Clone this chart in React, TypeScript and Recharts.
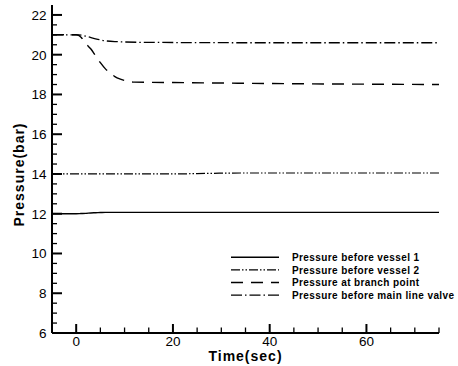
import React from 'react';
import { LineChart, Line, XAxis, YAxis } from 'recharts';

// ---- data ----
const vessel1Time = [-5, 0, 1, 2, 3, 4, 5, 6, 8, 75];
const vessel1Pressure = [12, 12, 12.01, 12.02, 12.04, 12.05, 12.06, 12.07, 12.07, 12.07];

const vessel2Time = [-5, 20, 25, 30, 35, 40, 75];
const vessel2Pressure = [14, 14, 14.02, 14.04, 14.05, 14.05, 14.05];

const branchTime = [-5, 0, 0.5, 1, 2, 3, 4, 5, 6, 7, 8, 9, 10, 11, 12, 20, 40, 75];
const branchPressure = [21, 21, 20.97, 20.88, 20.55, 20.3, 19.95, 19.6, 19.3, 19.08, 18.9, 18.78, 18.7, 18.65, 18.62, 18.6, 18.55, 18.5];

const mainValveTime = [-5, 0.5, 2, 4, 6, 8, 15, 40, 75];
const mainValvePressure = [21, 21, 20.93, 20.8, 20.7, 20.66, 20.62, 20.6, 20.6];

const seriesNames = [
  'Pressure before vessel 1',
  'Pressure before vessel 2',
  'Pressure at branch point',
  'Pressure before main line valve',
];

const xTicks = [0, 5, 10, 15, 20, 25, 30, 35, 40, 45, 50, 55, 60, 65, 70, 75];
const xMajor = [0, 20, 40, 60];
const yTicks = [6, 6.5, 7, 7.5, 8, 8.5, 9, 9.5, 10, 10.5, 11, 11.5, 12, 12.5, 13, 13.5, 14, 14.5, 15, 15.5, 16, 16.5, 17, 17.5, 18, 18.5, 19, 19.5, 20, 20.5, 21, 21.5, 22];
const yMajor = [6, 8, 10, 12, 14, 16, 18, 20, 22];

const zip = (t: number[], p: number[]) => t.map((tt, i) => ({ t: tt, p: p[i] }));

const series = [
  { name: seriesNames[0], data: zip(vessel1Time, vessel1Pressure), dash: undefined as string | undefined, width: 1.4 },
  { name: seriesNames[1], data: zip(vessel2Time, vessel2Pressure), dash: '9 2 1.5 2 1.5 2', width: 1.2 },
  { name: seriesNames[2], data: zip(branchTime, branchPressure), dash: '12 8', width: 1.4 },
  { name: seriesNames[3], data: zip(mainValveTime, mainValvePressure), dash: '11 3 1.5 3', width: 1.3 },
];

const FONT = '"Liberation Sans", Arial, Helvetica, sans-serif';

const YTick = (props: any) => {
  const { x, y, payload } = props;
  const v = payload.value;
  const major = yMajor.includes(v);
  return (
    <g>
      <line x1={x} x2={x + (major ? 10 : 5)} y1={y} y2={y} stroke="#000" strokeWidth={major ? 2 : 1.3} />
      {major && (
        <text x={x - 5.5} y={y} dy="0.36em" textAnchor="end" fontSize={13.5} fontFamily={FONT} fill="#000">
          {v}
        </text>
      )}
    </g>
  );
};

const XTick = (props: any) => {
  const { x, y, payload } = props;
  const v = payload.value;
  const major = xMajor.includes(v);
  return (
    <g>
      <line x1={x} x2={x} y1={y} y2={y - (major ? 9 : 5.5)} stroke="#000" strokeWidth={major ? 2 : 1.3} />
      {major && (
        <text x={x} y={y + 13} textAnchor="middle" fontSize={13.5} fontFamily={FONT} fill="#000">
          {v}
        </text>
      )}
    </g>
  );
};

const LegendBox = () => (
  <g transform="translate(225 248)">
    {series.map((s, i) => {
      const cy = 9.3 + i * 12.6;
      return (
        <g key={s.name}>
          <line x1={6} x2={54} y1={cy} y2={cy} stroke="#000" strokeWidth={s.width} strokeDasharray={s.dash} />
          <text x={67} y={cy} dy="0.36em" fontSize={10} fontWeight="bold" letterSpacing={0.4} fontFamily={FONT} fill="#000">
            {s.name}
          </text>
        </g>
      );
    })}
  </g>
);

export default function App() {
  return (
    <div style={{ position: 'absolute', left: 0, top: 0, background: '#fff' }}>
      <LineChart width={458} height={366} margin={{ top: 5, right: 19, bottom: 0, left: 0 }}>
        <XAxis
          dataKey="t"
          type="number"
          domain={[-5, 75]}
          ticks={xTicks}
          interval={0}
          allowDataOverflow
          height={33}
          tickSize={0}
          tickMargin={0}
          tickLine={false}
          axisLine={{ stroke: '#000', strokeWidth: 2 }}
          tick={XTick}
        />
        <YAxis
          type="number"
          domain={[6, 22.5]}
          ticks={yTicks}
          interval={0}
          allowDataOverflow
          width={52}
          tickSize={0}
          tickMargin={0}
          tickLine={false}
          axisLine={{ stroke: '#000', strokeWidth: 2 }}
          tick={YTick}
        />
        {series.map((s) => (
          <Line
            key={s.name}
            data={s.data}
            dataKey="p"
            name={s.name}
            type="monotone"
            stroke="#000"
            strokeWidth={s.width}
            strokeDasharray={s.dash}
            dot={false}
            activeDot={false}
            isAnimationActive={false}
          />
        ))}
        <LegendBox />
        <text x={245.5} y={361} textAnchor="middle" fontSize={14} fontWeight="bold" letterSpacing={1} fontFamily={FONT} fill="#000">
          Time(sec)
        </text>
        <text
          x={24.3}
          y={174.5}
          transform="rotate(-90 24.3 174.5)"
          textAnchor="middle"
          fontSize={14}
          fontWeight="bold"
          letterSpacing={1}
          fontFamily={FONT}
          fill="#000"
        >
          Pressure(bar)
        </text>
      </LineChart>
    </div>
  );
}
